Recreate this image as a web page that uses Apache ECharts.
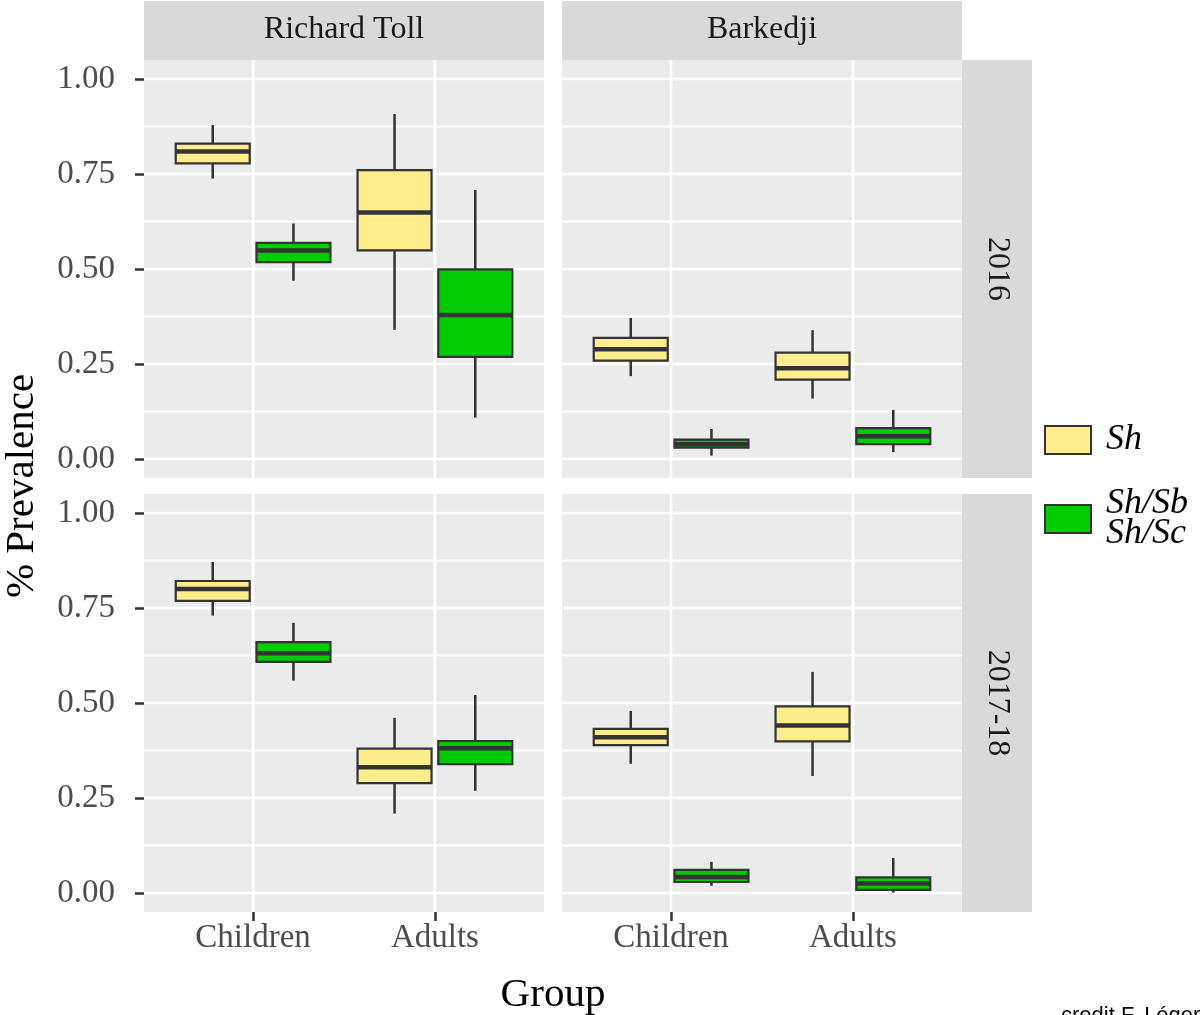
<!DOCTYPE html>
<html><head><meta charset="utf-8">
<script src="https://cdn.jsdelivr.net/npm/echarts@6/dist/echarts.min.js"></script>
<style>html,body{margin:0;padding:0;background:#fff}#c{width:1201px;height:1015px}</style>
</head><body><div id="c"></div><script>
// ---- data ----
const categories = ['Children', 'Adults'];
const sites = ['Richard Toll', 'Barkedji'];
const periods = ['2016', '2017-18'];
const groups = ['Sh', 'Sh/Sb Sh/Sc'];
const yTicks = [0, 0.25, 0.5, 0.75, 1];
const yGridLines = [0, 0.125, 0.25, 0.375, 0.5, 0.625, 0.75, 0.875, 1];
// each entry: [min, q1, median, q3, max] for Children, Adults
const sh_RT_2016   = [[0.738, 0.778, 0.809, 0.830, 0.879], [0.340, 0.549, 0.649, 0.760, 0.908]];
const mix_RT_2016  = [[0.469, 0.518, 0.549, 0.569, 0.620], [0.109, 0.269, 0.379, 0.499, 0.708]];
const sh_BK_2016   = [[0.218, 0.259, 0.289, 0.319, 0.371], [0.159, 0.209, 0.239, 0.280, 0.339]];
const mix_BK_2016  = [[0.009, 0.030, 0.039, 0.051, 0.079], [0.018, 0.039, 0.060, 0.081, 0.129]];
const sh_RT_2017   = [[0.730, 0.769, 0.800, 0.821, 0.871], [0.209, 0.289, 0.331, 0.380, 0.461]];
const mix_RT_2017  = [[0.559, 0.608, 0.631, 0.660, 0.711], [0.269, 0.339, 0.381, 0.400, 0.521]];
const sh_BK_2017   = [[0.340, 0.389, 0.410, 0.432, 0.479], [0.308, 0.399, 0.441, 0.491, 0.582]];
const mix_BK_2017  = [[0.019, 0.029, 0.042, 0.061, 0.082], [0.001, 0.008, 0.025, 0.041, 0.092]];

// ---- layout / style ----
const panels = [
  {col: 0, row: 0, stats: [sh_RT_2016, mix_RT_2016]},
  {col: 1, row: 0, stats: [sh_BK_2016, mix_BK_2016]},
  {col: 0, row: 1, stats: [sh_RT_2017, mix_RT_2017]},
  {col: 1, row: 1, stats: [sh_BK_2017, mix_BK_2017]}
];
const lefts = [144, 562], tops = [60, 494], PW = 400, PH = 418;
const X_MIN = 0.4, X_MAX = 2.6, Y_MIN = -0.05, Y_MAX = 1.05;
const fills = ['#FFEC8B', '#00CD00'];
const dodge = [-0.222, 0.222], boxW = 0.407;
const SERIF = 'Liberation Serif';
const INK = '#333333';

const grids = [], xAxes = [], yAxes = [], series = [];
panels.forEach((p, i) => {
  grids.push({left: lefts[p.col], top: tops[p.row], width: PW, height: PH,
    show: true, backgroundColor: '#EBEBEB', borderWidth: 0});
  xAxes.push({gridIndex: i, type: 'value', min: X_MIN, max: X_MAX, position: 'bottom',
    axisLine: {show: false, onZero: false}, splitLine: {show: false},
    axisTick: {show: p.row === 1, customValues: [1, 2], length: 9, lineStyle: {color: INK, width: 2.5}},
    axisLabel: {show: p.row === 1, customValues: [1, 2], formatter: v => categories[Math.round(v) - 1],
      color: '#4D4D4D', fontFamily: SERIF, fontSize: 33, margin: 10}});
  yAxes.push({gridIndex: i, type: 'value', min: Y_MIN, max: Y_MAX, position: 'left',
    axisLine: {show: false, onZero: false}, splitLine: {show: false},
    axisTick: {show: p.col === 0, customValues: yTicks, length: 9, lineStyle: {color: INK, width: 2.5}},
    axisLabel: {show: p.col === 0, customValues: yTicks, formatter: v => v.toFixed(2),
      color: '#4D4D4D', fontFamily: SERIF, fontSize: 33, margin: 29}});
  // grid lines
  const gl = yGridLines.map(v => [0, v]).concat(categories.map((c, k) => [1, k + 1]));
  series.push({type: 'custom', xAxisIndex: i, yAxisIndex: i, silent: true, z: 1, clip: false,
    data: gl,
    renderItem: (params, api) => {
      const kind = api.value(0), v = api.value(1);
      let a, b, w;
      if (kind === 0) { a = api.coord([X_MIN, v]); b = api.coord([X_MAX, v]);
        w = (Math.abs(v * 4 - Math.round(v * 4)) < 1e-6) ? 2.7 : 2.0; }
      else { a = api.coord([v, Y_MIN]); b = api.coord([v, Y_MAX]); w = 2.7; }
      return {type: 'line', shape: {x1: a[0], y1: a[1], x2: b[0], y2: b[1]},
        style: {stroke: '#FFFFFF', lineWidth: w}};
    }});
  // boxes
  p.stats.forEach((st, g) => {
    series.push({type: 'custom', name: groups[g], xAxisIndex: i, yAxisIndex: i, z: 3,
      itemStyle: {color: fills[g]},
      data: st.map((s, k) => [k + 1 + dodge[g]].concat(s)),
      renderItem: (params, api) => {
        const x = api.value(0);
        const pMin = api.coord([x, api.value(1)]), pQ1 = api.coord([x, api.value(2)]),
              pMed = api.coord([x, api.value(3)]), pQ3 = api.coord([x, api.value(4)]),
              pMax = api.coord([x, api.value(5)]);
        const w = api.size([boxW, 0])[0];
        const cx = pMed[0], x0 = cx - w / 2;
        return {type: 'group', children: [
          {type: 'line', shape: {x1: cx, y1: pQ3[1], x2: cx, y2: pMax[1]}, style: {stroke: INK, lineWidth: 2.5}},
          {type: 'line', shape: {x1: cx, y1: pQ1[1], x2: cx, y2: pMin[1]}, style: {stroke: INK, lineWidth: 2.5}},
          {type: 'rect', shape: {x: x0, y: pQ3[1], width: w, height: pQ1[1] - pQ3[1]},
            style: {fill: fills[g], stroke: INK, lineWidth: 2.2}},
          {type: 'line', shape: {x1: x0, y1: pMed[1], x2: x0 + w, y2: pMed[1]}, style: {stroke: INK, lineWidth: 4.5}}
        ]};
      }});
  });
});

// strips and titles
const graphic = [];
sites.forEach((s, c) => {
  graphic.push({type: 'rect', shape: {x: lefts[c], y: 1, width: PW, height: 59}, style: {fill: '#D9D9D9'}, silent: true});
  graphic.push({type: 'text', x: lefts[c] + PW / 2, y: 30, silent: true,
    style: {text: s, fill: '#1A1A1A', font: '32px "' + SERIF + '"', textAlign: 'center', textVerticalAlign: 'middle'}});
});
periods.forEach((t, r) => {
  graphic.push({type: 'rect', shape: {x: 962, y: tops[r], width: 70, height: PH}, style: {fill: '#D9D9D9'}, silent: true});
  graphic.push({type: 'text', x: 997, y: tops[r] + PH / 2, rotation: -Math.PI / 2, silent: true,
    style: {text: t, fill: '#1A1A1A', font: '32px "' + SERIF + '"', textAlign: 'center', textVerticalAlign: 'middle'}});
});
graphic.push({type: 'text', x: 553, y: 995, silent: true,
  style: {text: 'Group', fill: '#000', font: '41px "' + SERIF + '"', textAlign: 'center', textVerticalAlign: 'middle'}});
graphic.push({type: 'text', x: 22, y: 486, rotation: Math.PI / 2, silent: true,
  style: {text: '% Prevalence', fill: '#000', font: '41px "' + SERIF + '"', textAlign: 'center', textVerticalAlign: 'middle'}});
graphic.push({type: 'text', x: 1061, y: 1005, silent: true,
  style: {text: 'credit F. Léger', fill: '#000', font: '22px "Liberation Sans"', textAlign: 'left', textVerticalAlign: 'top'}});

const chart = echarts.init(document.getElementById('c'));
chart.setOption({
  animation: false,
  backgroundColor: '#FFFFFF',
  grid: grids, xAxis: xAxes, yAxis: yAxes, series: series, graphic: graphic,
  legend: {orient: 'vertical', left: 1044, top: 422, padding: 0, selectedMode: false,
    data: groups, icon: 'rect', itemWidth: 46, itemHeight: 28, itemGap: 28,
    itemStyle: {borderColor: INK, borderWidth: 2},
    formatter: n => n.replace(' ', '\n'),
    textStyle: {fontFamily: SERIF, fontStyle: 'italic', fontSize: 36, lineHeight: 30, color: '#000', padding: [0, 0, 0, 10]}}
});
</script></body></html>
